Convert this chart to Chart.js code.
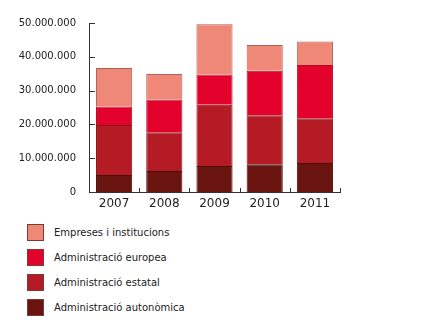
<!DOCTYPE html>
<html>
<head>
<meta charset="utf-8">
<script src="https://cdn.jsdelivr.net/npm/chart.js@4/dist/chart.umd.min.js"></script>
<style>
    html, body { margin: 0; padding: 0; background: #fff; }
    #wrap { position: relative; width: 448px; height: 335px; }
    #chartBox { position: absolute; left: 0; top: 0; width: 448px; height: 215px; }
    #legend { position: absolute; left: 27px; top: 224px; font-family: 'DejaVu Sans', sans-serif; font-size: 10px; color: #222; }
    .item { display: flex; align-items: center; height: 17px; margin-bottom: 8px; }
    .box { width: 15px; height: 15px; border: 1px solid #7a3a36; margin-right: 10px; }
</style>
</head>
<body>
<div id="wrap">
    <div id="chartBox"><canvas id="chartFinancament"></canvas></div>
    <div id="legend"></div>
</div>
<script>
const years = ['2007', '2008', '2009', '2010', '2011'];
const autonomica = [5.0, 6.2, 7.7, 8.2, 8.6];
const estatal = [14.8, 11.5, 18.1, 14.5, 13.2];
const europea = [5.5, 9.7, 9.0, 13.2, 15.8];
const empreses = [11.4, 7.5, 14.8, 7.6, 6.9];
const yTicks = [0, 10000000, 20000000, 30000000, 40000000, 50000000];

const palette = {
    empreses: '#f08877',
    europea: '#e2022c',
    estatal: '#b51b25',
    autonomica: '#6a1410',
    axis: '#333',
};

function millions(list) {
    return list.map(v => v * 1000000);
}

function formatDots(value) {
    return String(Math.round(value)).replace(/\B(?=(\d{3})+(?!\d))/g, '.');
}

const datasets = [
    { label: 'Administració autonòmica', data: millions(autonomica), backgroundColor: palette.autonomica, borderColor: '#4a0c08' },
    { label: 'Administració estatal', data: millions(estatal), backgroundColor: palette.estatal, borderColor: '#8a1218' },
    { label: 'Administració europea', data: millions(europea), backgroundColor: palette.europea, borderColor: '#a8101e' },
    { label: 'Empreses i institucions', data: millions(empreses), backgroundColor: palette.empreses, borderColor: '#b0605a' },
].map(d => Object.assign(d, { borderWidth: 1, barPercentage: 0.72, categoryPercentage: 1 }));

// tick marks pointing into the plot, like the original
const innerTicks = {
    id: 'innerTicks',
    afterDatasetsDraw(chart) {
        const ctx = chart.ctx;
        const area = chart.chartArea;
        const x = chart.scales.x;
        const y = chart.scales.y;
        ctx.save();
        ctx.strokeStyle = palette.axis;
        ctx.lineWidth = 1;
        ctx.beginPath();
        yTicks.forEach(v => {
            const py = Math.round(y.getPixelForValue(v)) + 0.5;
            ctx.moveTo(area.left, py);
            ctx.lineTo(area.left + 6, py);
        });
        years.forEach((yr, i) => {
            const px = Math.round(x.getPixelForValue(i + 0.5)) + 0.5;
            ctx.moveTo(px, area.bottom);
            ctx.lineTo(px, area.bottom - 4);
        });
        ctx.stroke();
        ctx.restore();
    },
};

const chart = new Chart(document.getElementById('chartFinancament'), {
    type: 'bar',
    data: { labels: years, datasets: datasets },
    options: {
        animation: false,
        responsive: true,
        maintainAspectRatio: false,
        layout: { padding: { top: 23, right: 108, bottom: 0, left: 0 } },
        plugins: {
            legend: { display: false },
            tooltip: { enabled: false },
        },
        scales: {
            x: {
                stacked: true,
                offset: true,
                border: { display: true, color: palette.axis, width: 1 },
                grid: { display: false },
                ticks: { color: '#222', font: { family: 'DejaVu Sans', size: 12 }, padding: -3 },
                afterFit: s => { s.height = 23; },
            },
            y: {
                stacked: true,
                min: 0,
                max: 50000000,
                afterBuildTicks: s => { s.ticks = yTicks.map(v => ({ value: v })); },
                border: { display: true, color: palette.axis, width: 1 },
                grid: { display: false },
                ticks: {
                    color: '#222',
                    font: { family: 'DejaVu Sans', size: 10 },
                    padding: 5,
                    callback: v => formatDots(v),
                },
                afterFit: s => { s.width = 89; },
            },
        },
    },
    plugins: [innerTicks],
});

// legend below the chart, top item first like the original
const legend = document.getElementById('legend');
chart.data.datasets.slice().reverse().forEach(ds => {
    const item = document.createElement('div');
    item.className = 'item';
    const box = document.createElement('div');
    box.className = 'box';
    box.style.background = ds.backgroundColor;
    const text = document.createElement('span');
    text.textContent = ds.label;
    item.appendChild(box);
    item.appendChild(text);
    legend.appendChild(item);
});
</script>
</body>
</html>
